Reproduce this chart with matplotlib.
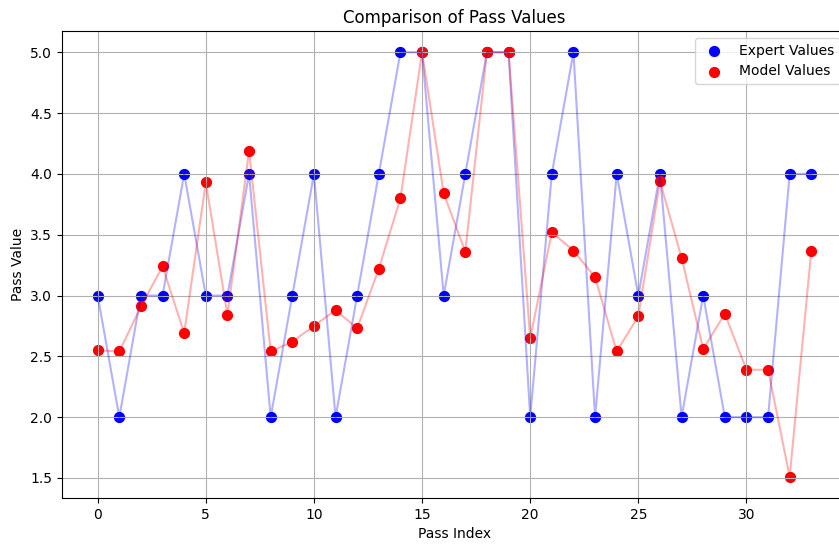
import numpy as np
import matplotlib
matplotlib.use("Agg")
import matplotlib.pyplot as plt

pass_index = np.arange(34)
expert_values = [3, 2, 3, 3, 4, 3, 3, 4, 2, 3, 4, 2, 3, 4, 5, 5, 3, 4, 5, 5,
                 2, 4, 5, 2, 4, 3, 4, 2, 3, 2, 2, 2, 4, 4]
model_values = [2.55, 2.54, 2.91, 3.24, 2.69, 3.93, 2.84, 4.19, 2.54, 2.62,
                2.75, 2.88, 2.73, 3.22, 3.80, 5.0, 3.84, 3.36, 5.0, 5.0,
                2.65, 3.52, 3.37, 3.15, 2.54, 2.83, 3.94, 3.31, 2.56, 2.85,
                2.39, 2.39, 1.51, 3.37]

fig = plt.figure(figsize=(8.39, 5.44), dpi=100)
# axes run past the right edge, like the cropped original
ax = fig.add_axes([62 / 839, 46 / 544, 785 / 839, 467 / 544])

ax.scatter(pass_index, expert_values, color='blue', s=50, label='Expert Values')
ax.scatter(pass_index, model_values, color='red', s=50, label='Model Values')
ax.plot(pass_index, expert_values, color='blue', alpha=0.3)
ax.plot(pass_index, model_values, color='red', alpha=0.3)

ax.set_title('Comparison of Pass Values')
ax.set_xlabel('Pass Index')
ax.set_ylabel('Pass Value')
ax.legend(loc='upper right')
ax.grid(True)

fig.savefig('out.png', dpi=100)
